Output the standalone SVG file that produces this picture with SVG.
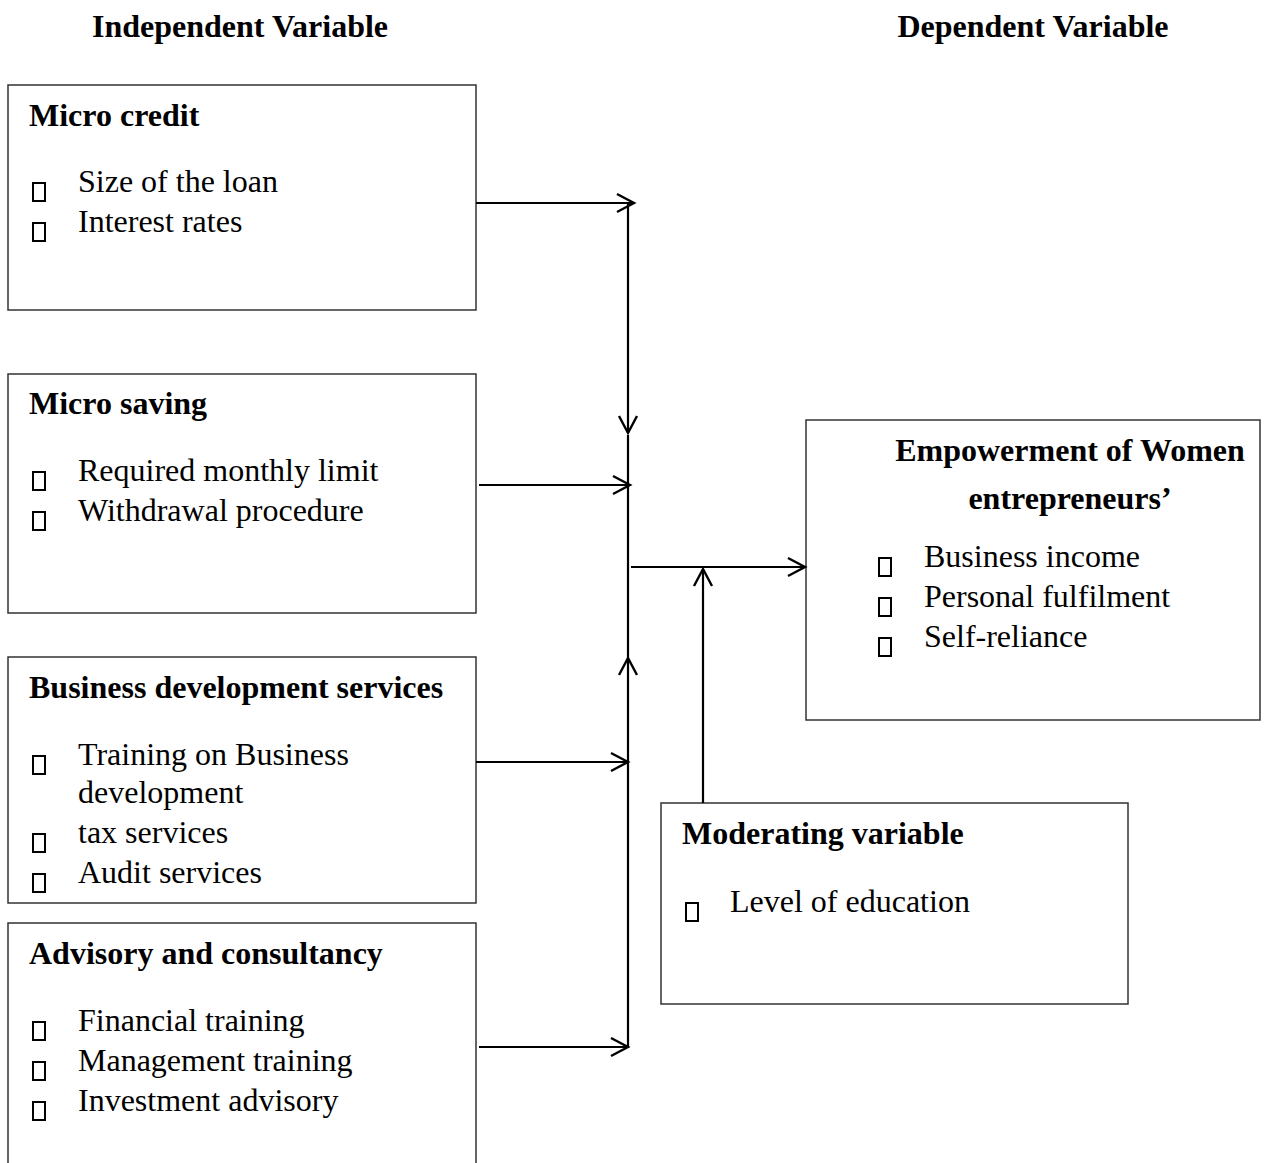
<svg xmlns="http://www.w3.org/2000/svg" width="1266" height="1163" viewBox="0 0 1266 1163">
<style>
.box{fill:#fff;stroke:#333;stroke-width:1.5}
.t{font-family:"Liberation Serif","Times New Roman",serif;font-size:32px;fill:#000}
.h{font-family:"Liberation Serif","Times New Roman",serif;font-size:32px;font-weight:bold;fill:#000}
.b{fill:none;stroke:#000;stroke-width:2}
.c{fill:none;stroke:#000;stroke-width:2.2}
</style>
<defs>
<marker id="ah" markerUnits="userSpaceOnUse" markerWidth="26" markerHeight="26" viewBox="-22 -13 26 26" refX="0" refY="0" orient="auto">
<path d="M-17,-9 L0,0 L-17,9" fill="none" stroke="#000" stroke-width="2.4"/>
</marker>
</defs>
<rect width="1266" height="1163" fill="#fff"/>
<g id="titles">
<text class="h" x="240" y="37" text-anchor="middle">Independent Variable</text>
<text class="h" x="1033" y="37" text-anchor="middle">Dependent Variable</text>
</g>
<g id="micro-credit">
<rect class="box" x="8" y="85" width="468" height="225"/>
<text class="h" x="29" y="126">Micro credit</text>
<rect class="b" x="33" y="183" width="12" height="18"/>
<text class="t" x="78" y="192">Size of the loan</text>
<rect class="b" x="33" y="223" width="12" height="18"/>
<text class="t" x="78" y="232">Interest rates</text>
</g>
<g id="micro-saving">
<rect class="box" x="8" y="374" width="468" height="239"/>
<text class="h" x="29" y="414">Micro saving</text>
<rect class="b" x="33" y="472" width="12" height="18"/>
<text class="t" x="78" y="481">Required monthly limit</text>
<rect class="b" x="33" y="512" width="12" height="18"/>
<text class="t" x="78" y="521">Withdrawal procedure</text>
</g>
<g id="business-development">
<rect class="box" x="8" y="657" width="468" height="246"/>
<text class="h" x="29" y="698">Business development services</text>
<rect class="b" x="33" y="756" width="12" height="18"/>
<text class="t" x="78" y="765">Training on Business</text>
<text class="t" x="78" y="803">development</text>
<rect class="b" x="33" y="834" width="12" height="18"/>
<text class="t" x="78" y="843">tax services</text>
<rect class="b" x="33" y="874" width="12" height="18"/>
<text class="t" x="78" y="883">Audit services</text>
</g>
<g id="advisory">
<rect class="box" x="8" y="923" width="468" height="260"/>
<text class="h" x="29" y="964">Advisory and consultancy</text>
<rect class="b" x="33" y="1022" width="12" height="18"/>
<text class="t" x="78" y="1031">Financial training</text>
<rect class="b" x="33" y="1062" width="12" height="18"/>
<text class="t" x="78" y="1071">Management training</text>
<rect class="b" x="33" y="1102" width="12" height="18"/>
<text class="t" x="78" y="1111">Investment advisory</text>
</g>
<g id="empowerment">
<rect class="box" x="806" y="420" width="454" height="300"/>
<text class="h" x="1070" y="461" text-anchor="middle">Empowerment of Women</text>
<text class="h" x="1070" y="509" text-anchor="middle">entrepreneurs’</text>
<rect class="b" x="879" y="558" width="12" height="18"/>
<text class="t" x="924" y="567">Business income</text>
<rect class="b" x="879" y="598" width="12" height="18"/>
<text class="t" x="924" y="607">Personal fulfilment</text>
<rect class="b" x="879" y="638" width="12" height="18"/>
<text class="t" x="924" y="647">Self-reliance</text>
</g>
<g id="moderating">
<rect class="box" x="661" y="803" width="467" height="201"/>
<text class="h" x="682" y="844">Moderating variable</text>
<rect class="b" x="686" y="903" width="12" height="18"/>
<text class="t" x="730" y="912">Level of education</text>
</g>
<g id="connectors">
<path class="c" d="M476,203 H634" marker-end="url(#ah)"/>
<path class="c" d="M628,203 V433" marker-end="url(#ah)"/>
<path class="c" d="M628,435 V658"/>
<path class="c" d="M628,1048 V658" marker-end="url(#ah)"/>
<path class="c" d="M479,485 H630" marker-end="url(#ah)"/>
<path class="c" d="M476,762 H628" marker-end="url(#ah)"/>
<path class="c" d="M479,1047 H628" marker-end="url(#ah)"/>
<path class="c" d="M631,567 H805" marker-end="url(#ah)"/>
<path class="c" d="M703,803 V569" marker-end="url(#ah)"/>
</g>
</svg>
